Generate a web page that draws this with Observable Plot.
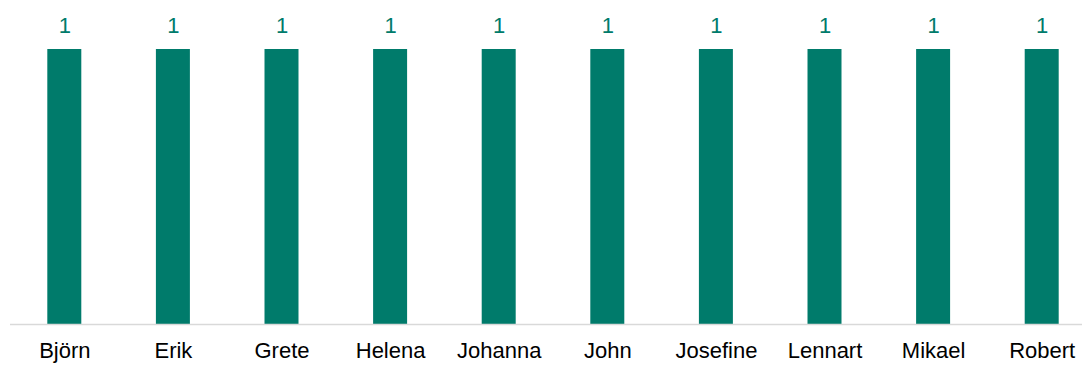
<!DOCTYPE html>
<html>
<head>
<meta charset="utf-8">
<script src="https://cdn.jsdelivr.net/npm/d3@7"></script>
<script src="https://cdn.jsdelivr.net/npm/@observablehq/plot@0.6"></script>
<style>
  html, body { margin: 0; padding: 0; background: #fff; }
  #chart svg { display: block; }
</style>
</head>
<body>
<div id="chart"></div>
<script>
const names = ["Björn", "Erik", "Grete", "Helena", "Johanna", "John", "Josefine", "Lennart", "Mikael", "Robert"];
const values = [1, 1, 1, 1, 1, 1, 1, 1, 1, 1];

const data = names.map((name, i) => ({name, value: values[i]}));
const green = "#007B6B";
const font = "'Liberation Sans', Arial, sans-serif";

const chart = Plot.plot({
  width: 1082,
  height: 365,
  marginLeft: 10,
  marginRight: 0,
  marginTop: 49,
  marginBottom: 41,
  style: {fontFamily: font, background: "#fff"},
  x: {domain: names, range: [10, 1096], paddingInner: 0.687, paddingOuter: 0.3435, round: false, label: null},
  y: {domain: [0, 1], axis: null},
  marks: [
    Plot.barY(data, {x: "name", y: "value", fill: green}),
    Plot.ruleY([0], {stroke: "#d9d9d9", strokeWidth: 1.5}),
    Plot.text(data, {x: "name", y: "value", text: d => String(d.value), dy: -24, fill: green, fontSize: 22, fontFamily: font}),
    Plot.axisX({tickSize: 0, tickPadding: 18, fontSize: 22, fontFamily: font, color: "#000", label: null})
  ]
});
document.getElementById("chart").appendChild(chart);
</script>
</body>
</html>
